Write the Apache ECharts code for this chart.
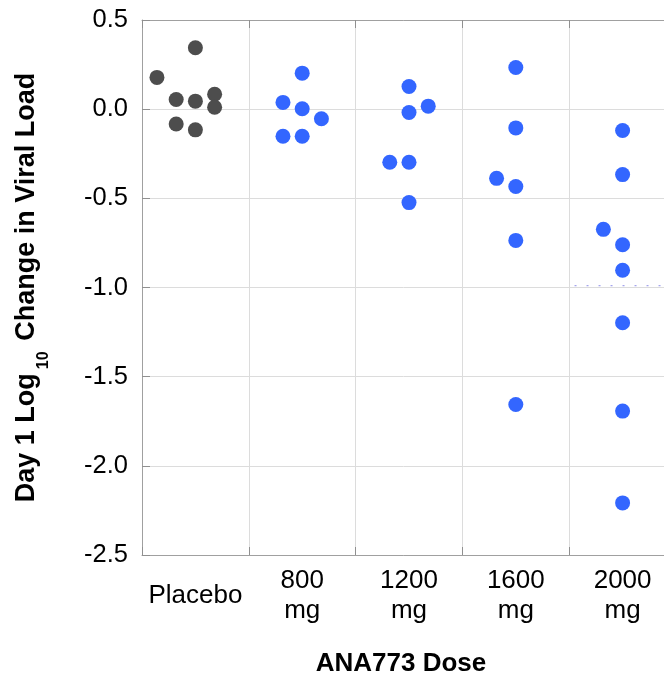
<!DOCTYPE html>
<html>
<head>
<meta charset="utf-8">
<script src="https://cdn.jsdelivr.net/npm/echarts@6/dist/echarts.min.js"></script>
<style>
  html, body { margin: 0; padding: 0; background: #fff; }
  #chart { width: 664px; height: 677px; }
</style>
</head>
<body>
<div id="chart"></div>
<script>
// dose groups shown on the x axis
var categories = ['Placebo', '800\nmg', '1200\nmg', '1600\nmg', '2000\nmg'];

// day 1 log10 change in viral load, one array per group
var placebo  = [0.178, 0.344, 0.054, 0.045, 0.084, 0.011, -0.083, -0.116];
var dose800  = [0.202, 0.038, 0.002, -0.054, -0.152, -0.152];
var dose1200 = [0.127, 0.017, -0.019, -0.298, -0.298, -0.524];
var dose1600 = [0.234, -0.105, -0.388, -0.434, -0.736, -1.656];
var dose2000 = [-0.120, -0.367, -0.674, -0.760, -0.903, -1.198, -1.693, -2.208];

// jitter column of each point inside its group (-2 .. 1)
var placeboCol  = [-2, 0, -1, 0, 1, 1, -1, 0];
var dose800Col  = [0, -1, 0, 1, -1, 0];
var dose1200Col = [0, 1, 0, -1, 0, 0];
var dose1600Col = [0, 0, -1, 0, 0, 0];
var dose2000Col = [0, 0, -1, 0, 0, 0, 0, 0];

// faint dotted reference in the 2000 mg group
var refLevel = -0.99;
var refFrom = 4.05;

var yTicks = [0.5, 0.0, -0.5, -1.0, -1.5, -2.0, -2.5];

var JITTER = 0.18;
var FONT = '"Liberation Sans", Arial, sans-serif';

function toPoints(groupIndex, values, cols) {
    return values.map(function (v, i) {
        return [groupIndex + 0.5 + cols[i] * JITTER, v];
    });
}

var placeboData = toPoints(0, placebo, placeboCol);
var drugData = [].concat(
    toPoints(1, dose800, dose800Col),
    toPoints(2, dose1200, dose1200Col),
    toPoints(3, dose1600, dose1600Col),
    toPoints(4, dose2000, dose2000Col)
);

var chart = echarts.init(document.getElementById('chart'), null, { renderer: 'canvas' });

var option = {
    animation: false,
    backgroundColor: '#fff',
    // plot runs past the right edge of the canvas, as in the original figure
    grid: { left: 142, top: 20, width: 534, height: 535, outerBoundsMode: 'none', containLabel: false },
    xAxis: [
        {   // value axis for the points
            type: 'value', min: 0, max: categories.length, interval: 1,
            position: 'bottom',
            axisLine: { show: true, onZero: false, lineStyle: { color: '#a0a0a0', width: 1 } },
            axisTick: { show: true, inside: true, length: 8, lineStyle: { color: '#909090' } },
            axisLabel: { show: false },
            splitLine: { show: true, lineStyle: { color: '#dcdcdc', width: 1 } }
        },
        {   // top frame with ticks
            type: 'value', min: 0, max: categories.length, interval: 1,
            position: 'top',
            axisLine: { show: true, onZero: false, lineStyle: { color: '#a0a0a0', width: 1 } },
            axisTick: { show: true, inside: true, length: 8, lineStyle: { color: '#909090' } },
            axisLabel: { show: false },
            splitLine: { show: false }
        },
        {   // category labels
            type: 'category', data: categories, position: 'bottom', boundaryGap: true,
            axisLine: { show: false, onZero: false }, axisTick: { show: false }, splitLine: { show: false },
            axisLabel: {
                show: true, interval: 0, margin: 41,
                verticalAlign: 'middle', lineHeight: 30,
                color: '#000', fontSize: 26, fontFamily: FONT
            },
            name: 'ANA773 Dose', nameLocation: 'middle', nameGap: 96,
            nameTextStyle: {
                color: '#000', fontSize: 26, fontWeight: 'bold', fontFamily: FONT,
                padding: [0, 16, 0, 0]
            }
        }
    ],
    yAxis: {
        type: 'value', min: yTicks[yTicks.length - 1], max: yTicks[0], interval: 0.5,
        axisLine: { show: true, lineStyle: { color: '#a0a0a0', width: 1 } },
        axisTick: { show: true, inside: true, length: 8, lineStyle: { color: '#909090' } },
        axisLabel: {
            margin: 14, color: '#000', fontSize: 25.5, fontFamily: FONT,
            formatter: function (v) { return v.toFixed(1); }
        },
        splitLine: { show: true, lineStyle: { color: '#dcdcdc', width: 1 } },
        name: 'Day 1 Log{sub|10} Change in Viral Load',
        nameLocation: 'middle', nameGap: 100, nameRotate: 90,
        nameTextStyle: {
            color: '#000', fontSize: 27, fontWeight: 'bold', fontFamily: FONT,
            lineHeight: 30,
            rich: {
                sub: {
                    fontSize: 16, fontWeight: 'bold', fontFamily: FONT, color: '#000',
                    verticalAlign: 'top', lineHeight: 30, padding: [24, 3, 0, 4]
                }
            }
        }
    },
    series: [
        {
            name: 'Placebo', type: 'scatter', xAxisIndex: 0,
            data: placeboData, symbolSize: 15,
            itemStyle: { color: '#4d4d4d', opacity: 1 }
        },
        {
            name: 'ANA773', type: 'scatter', xAxisIndex: 0,
            data: drugData, symbolSize: 15,
            itemStyle: { color: '#3366ff', opacity: 1 }
        },
        {
            name: 'ref', type: 'line', xAxisIndex: 0,
            data: [[refFrom, refLevel], [categories.length, refLevel]],
            symbol: 'none', silent: true,
            lineStyle: { color: '#8f8fe8', width: 1, type: [2, 10] }
        }
    ]
};

option && chart.setOption(option);
</script>
</body>
</html>
